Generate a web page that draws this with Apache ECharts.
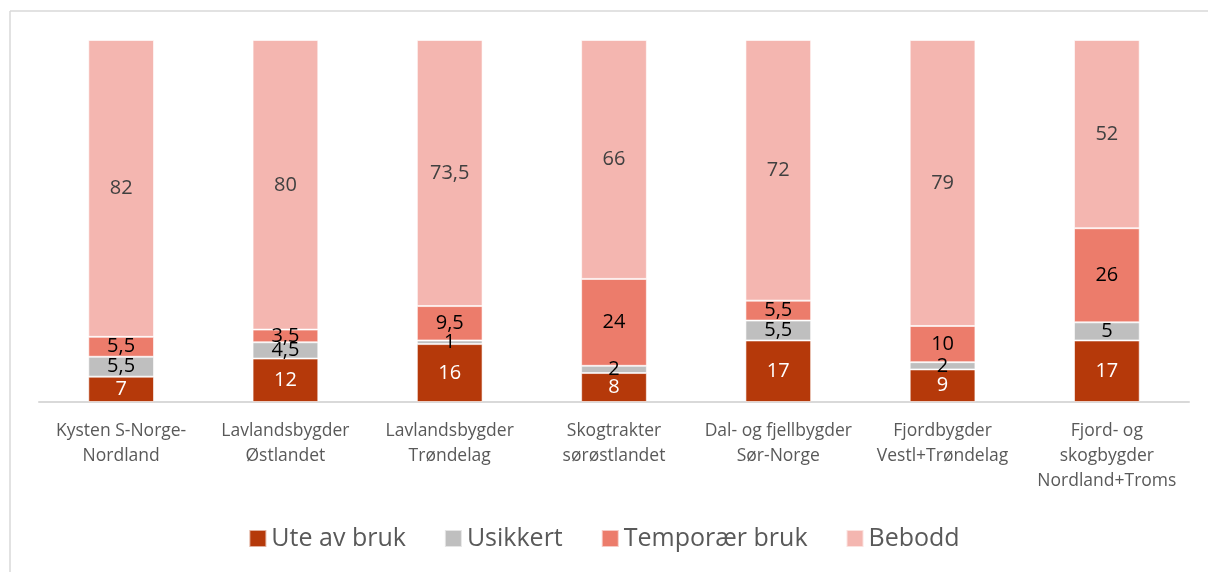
<!DOCTYPE html>
<html><head><meta charset="utf-8">
<script src="https://cdn.jsdelivr.net/npm/echarts@6/dist/echarts.min.js"></script>
<style>html,body{margin:0;padding:0;background:#fff}#c{width:1208px;height:572px}</style>
</head><body><div id="c"></div>
<script>
const categories = ['Kysten S-Norge-\nNordland','Lavlandsbygder\nØstlandet','Lavlandsbygder\nTrøndelag','Skogtrakter\nsørøstlandet','Dal- og fjellbygder\nSør-Norge','Fjordbygder\nVestl+Trøndelag','Fjord- og\nskogbygder\nNordland+Troms'];
const uteAvBruk = [7, 12, 16, 8, 17, 9, 17];
const usikkert = [5.5, 4.5, 1, 2, 5.5, 2, 5];
const temporaerBruk = [5.5, 3.5, 9.5, 24, 5.5, 10, 26];
const bebodd = [82, 80, 73.5, 66, 72, 79, 52];

const font = 'Open Sans';
const fmt = p => String(p.value).replace('.', ',');
function mk(name, data, color, labelColor){
  return {name, type:'bar', stack:'s', data, barWidth:'40%',
    itemStyle:{color, borderColor:'rgba(255,255,255,0.6)', borderWidth:1},
    label:{show:true, position:'inside', color:labelColor, fontFamily:font, fontSize:20, formatter:fmt},
    emphasis:{disabled:true}};
}
const chart = echarts.init(document.getElementById('c'), null, {renderer:'canvas'});
chart.setOption({
  animation:false,
  grid:{left:39, right:19, top:40, bottom:170, containLabel:false},
  xAxis:{type:'category', data:categories,
    axisLine:{lineStyle:{color:'#d9d9d9', width:2}}, axisTick:{show:false},
    axisLabel:{color:'#595959', fontFamily:font, fontSize:17.5, lineHeight:25, margin:17, interval:0}},
  yAxis:{type:'value', min:0, max:100, show:false, splitLine:{show:false}},
  legend:{top:521, left:'center', itemWidth:17, itemHeight:17, itemGap:38, icon:'rect',
    textStyle:{color:'#595959', fontFamily:font, fontSize:25}},
  series:[
    mk('Ute av bruk', uteAvBruk, '#B5390A', '#ffffff'),
    mk('Usikkert', usikkert, '#BFBFBF', '#000000'),
    mk('Temporær bruk', temporaerBruk, '#EC7C6B', '#000000'),
    mk('Bebodd', bebodd, '#F4B6B0', '#404040')
  ],
  graphic:[
    {type:'line', shape:{x1:10, y1:11, x2:1208, y2:11}, style:{stroke:'#d9d9d9', lineWidth:1.5}},
    {type:'line', shape:{x1:10, y1:11, x2:10, y2:572}, style:{stroke:'#d9d9d9', lineWidth:1.5}}
  ]
});
</script></body></html>
